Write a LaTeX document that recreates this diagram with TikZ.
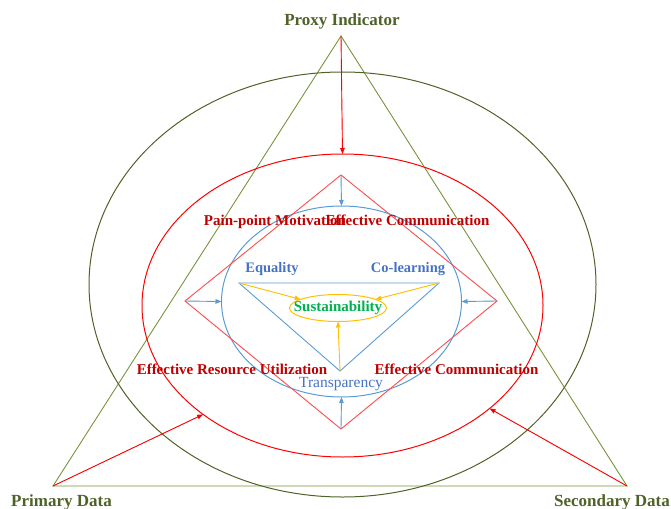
\documentclass[tikz,border=0pt]{standalone}
\usepackage{fontspec}
\setmainfont{Liberation Serif}
\usetikzlibrary{shapes.geometric,arrows.meta}

\definecolor{olivedark}{HTML}{4F6228}
\definecolor{olive}{HTML}{77933C}
\definecolor{darkred}{HTML}{C00000}
\definecolor{brightred}{HTML}{FF0000}
\definecolor{diamondred}{HTML}{FF4B4B}
\definecolor{skyblue}{HTML}{5B9BD5}
\definecolor{textblue}{HTML}{4472C4}
\definecolor{gold}{HTML}{FFC000}
\definecolor{leafgreen}{HTML}{00B050}

\tikzset{
  ring/.style={ellipse, draw, inner sep=0pt, outer sep=0pt},
  tip/.style={-{Triangle[length=6pt,width=4.5pt]}},
  cornerlabel/.style={font=\bfseries\fontsize{17}{19}\selectfont, text=olivedark, inner sep=0pt, anchor=base},
  redlabel/.style={font=\bfseries\fontsize{15}{17}\selectfont, text=darkred, inner sep=0pt, anchor=base},
  bluelabel/.style={font=\bfseries\fontsize{14.5}{17}\selectfont, text=textblue, inner sep=0pt, anchor=base},
  greenlabel/.style={font=\bfseries\fontsize{15}{17}\selectfont, text=leafgreen, inner sep=0pt},
  redarrow/.style={tip, draw=brightred, fill=brightred, line width=0.9pt},
  bluearrow/.style={tip, draw=skyblue, fill=skyblue, line width=0.9pt},
  goldarrow/.style={tip, draw=gold, fill=gold, line width=0.9pt},
}

\begin{document}
\begin{tikzpicture}[x=1pt,y=-1pt]
  \useasboundingbox (0,0) rectangle (671,508);

  % outer triangle of data sources
  \coordinate (apex) at (341,36);
  \coordinate (pl) at (53,486);
  \coordinate (pr) at (627,486);
  \draw[olive, line width=0.9pt] (apex) -- (pl) -- (pr) -- cycle;

  % concentric rings
  \node[ring, draw=olivedark, line width=1pt, minimum width=507pt, minimum height=425pt] (outer) at (342.5,284.5) {};
  \node[ring, draw=brightred, line width=1pt, minimum width=401pt, minimum height=303pt] (redell) at (342.5,305.5) {};
  \node[ring, draw=skyblue, line width=1pt, minimum width=240pt, minimum height=191pt] (blueell) at (341.5,301.5) {};

  % diamond of practices
  \coordinate (dt) at (341,175);
  \coordinate (dl) at (185,301);
  \coordinate (dr) at (497,301);
  \coordinate (db) at (341,429);
  \draw[diamondred, line width=0.9pt] (dt) -- (dr) -- (db) -- (dl) -- cycle;

  % inner triangle of principles
  \coordinate (tl) at (239,283);
  \coordinate (tr) at (439,283);
  \coordinate (tb) at (340,371);
  \draw[skyblue, line width=0.9pt] (tl) -- (tr) -- (tb) -- cycle;

  % core goal
  \node[ring, draw=gold, line width=1pt, minimum width=97pt, minimum height=27pt] (sus) at (338,308) {};
  \node[greenlabel] (sustxt) at (sus) {Sustainability};

  % arrows from the data sources
  \draw[redarrow] (apex) -- (redell.north);
  \draw[redarrow] (pl) -- (redell.218);
  \draw[redarrow] (pr) -- (redell.325);

  % arrows from the diamond corners
  \draw[bluearrow] (dt) -- (blueell.north);
  \draw[bluearrow] (db) -- (blueell.south);
  \draw[bluearrow] (dl) -- (blueell.west);
  \draw[bluearrow] (dr) -- (blueell.east);

  % arrows into the core goal
  \draw[goldarrow] (tl) -- (sus.167);
  \draw[goldarrow] (tr) -- (sus.13);
  \draw[goldarrow] (tb) -- (sus.south);

  % corner labels
  \node[cornerlabel] (proxy) at (342,26) {Proxy Indicator};
  \node[cornerlabel] (primary) at (61.5,506) {Primary Data};
  \node[cornerlabel] (secondary) at (612,506) {Secondary Data};

  % practice labels
  \node[redlabel] (pain) at (275,225) {Pain-point Motivation};
  \node[redlabel] (commtop) at (407.5,225) {Effective Communication};
  \node[redlabel] (resource) at (232,374) {Effective Resource Utilization};
  \node[redlabel] (commbot) at (456.5,374) {Effective Communication};

  % principle labels
  \node[bluelabel] (equality) at (272,272) {Equality};
  \node[bluelabel] (colearn) at (408,272) {Co-learning};
  \node[bluelabel, font=\fontsize{15.5}{17}\selectfont] (transp) at (341,387) {Transparency};
\end{tikzpicture}
\end{document}
